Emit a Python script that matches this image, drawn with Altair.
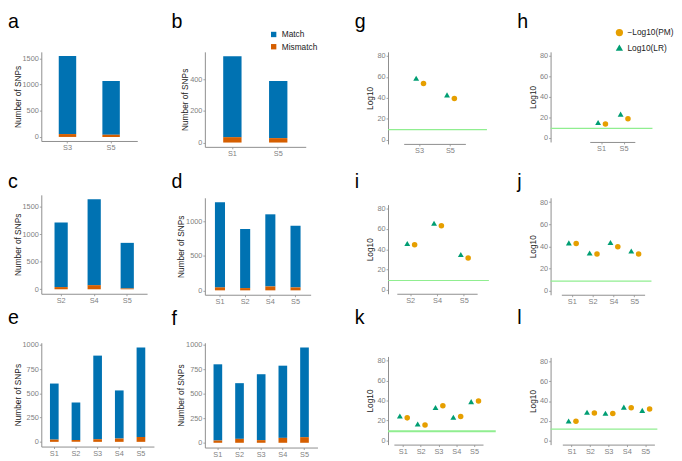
import altair as alt
import pandas as pd

FONT = "Liberation Sans"
MATCH, MISMATCH = "Match", "Mismatch"
PM, LR = "\u2212Log10(PM)", "Log10(LR)"

# ---- bar panels (a-f): Match / Mismatch counts
a_cats = ["S3", "S5"]
a_match = [1495, 1027]
a_mis = [55, 43]
b_cats = ["S1", "S5"]
b_match = [512, 361]
b_mis = [34, 28]
c_cats = ["S2", "S4", "S5"]
c_match = [1171, 1558, 828]
c_mis = [40, 75, 15]
d_cats = ["S1", "S2", "S4", "S5"]
d_match = [1237, 858, 1047, 895]
d_mis = [43, 33, 57, 43]
e_cats = ["S1", "S2", "S3", "S4", "S5"]
e_match = [578, 386, 862, 496, 923]
e_mis = [23, 20, 27, 34, 50]
f_cats = ["S1", "S2", "S3", "S4", "S5"]
f_match = [776, 567, 671, 735, 913]
f_mis = [23, 40, 27, 50, 57]

# ---- point panels (g-l): -Log10(PM), Log10(LR), threshold line
g_cats = ["S3", "S5"]
g_pm = [53.7, 39.5]
g_lr = [58.7, 42.9]
g_thr = 9.6
h_cats = ["S1", "S5"]
h_pm = [13.6, 18.7]
h_lr = [15.0, 23.2]
h_thr = 9.3
i_cats = ["S2", "S4", "S5"]
i_pm = [44.4, 63.2, 31.4]
i_lr = [45.7, 65.7, 34.7]
i_thr = 9.1
j_cats = ["S1", "S2", "S4", "S5"]
j_pm = [42.5, 33.0, 39.6, 33.0]
j_lr = [43.1, 33.9, 43.4, 35.7]
j_thr = 8.4
k_cats = ["S1", "S2", "S3", "S4", "S5"]
k_pm = [22.7, 15.5, 34.7, 24.0, 39.5]
k_lr = [24.6, 16.5, 33.0, 23.3, 38.9]
k_thr = 9.4
l_cats = ["S1", "S2", "S3", "S4", "S5"]
l_pm = [19.5, 28.0, 27.3, 33.2, 31.9]
l_lr = [19.8, 28.6, 27.6, 33.8, 30.6]
l_thr = 11.7


def title(label, offset):
    return alt.TitleParams(text=label, anchor="start", frame="group", dx=-34,
                           offset=offset, fontSize=20, fontWeight="normal",
                           font=FONT, color="#000000")


def bar_panel(label, cats, match, mis, ticks, w, h, offset, legend=None):
    n = len(cats)
    df = pd.DataFrame({"Sample": cats + cats,
                       "Type": [MATCH] * n + [MISMATCH] * n,
                       "SNPs": match + mis})
    top = max(m + s for m, s in zip(match, mis))
    return alt.Chart(df).transform_calculate(
        ord="datum.Type == 'Mismatch' ? 0 : 1"
    ).mark_bar().encode(
        x=alt.X("Sample:N", sort=cats,
                scale=alt.Scale(paddingInner=0.6, paddingOuter=0.4),
                axis=alt.Axis(title=None, labelAngle=0)),
        y=alt.Y("SNPs:Q", stack="zero",
                scale=alt.Scale(domain=[-0.05 * top, 1.05 * top], nice=False, zero=False),
                axis=alt.Axis(title="Number of SNPs", values=ticks, format="d", titlePadding=0)),
        color=alt.Color("Type:N",
                        scale=alt.Scale(domain=[MATCH, MISMATCH], range=["#0072B2", "#D55E00"]),
                        legend=legend),
        order=alt.Order("ord:Q", sort="ascending"),
    ).properties(width=w, height=h, title=title(label, offset))


def point_panel(label, cats, pm, lr, thr, xr, w, h, offset, legend=None, rule_w=1.2):
    n = len(cats)
    df = pd.DataFrame({"Sample": cats + cats,
                       "Stat": [PM] * n + [LR] * n,
                       "Value": pm + lr})
    yscale = alt.Scale(domain=[-4, 84], nice=False, zero=False)
    yaxis = alt.Axis(title="Log10", values=[0, 20, 40, 60, 80])
    x = alt.X("Sample:N", sort=cats, scale=alt.Scale(type="point", range=xr),
              axis=alt.Axis(title=None, labelAngle=0))
    y = alt.Y("Value:Q", scale=yscale, axis=yaxis)
    color = alt.Color("Stat:N", scale=alt.Scale(domain=[PM, LR], range=["#E69F00", "#009E73"]),
                      legend=legend)
    shape = alt.Shape("Stat:N", scale=alt.Scale(domain=[PM, LR], range=["circle", "triangle-up"]),
                      legend=legend)
    base = alt.Chart(df)
    tri = base.transform_filter(alt.datum.Stat == LR).mark_point(
        filled=True, opacity=1, size=36, xOffset=-3).encode(x=x, y=y, color=color, shape=shape)
    cir = base.transform_filter(alt.datum.Stat == PM).mark_point(
        filled=True, opacity=1, size=32, xOffset=4.5).encode(x=x, y=y, color=color, shape=shape)
    rule = alt.Chart(pd.DataFrame({"thr": [thr]})).mark_rule(
        color="#90EE90", strokeWidth=rule_w).encode(y=alt.Y("thr:Q", scale=yscale, axis=yaxis))
    return alt.layer(rule, tri, cir).properties(width=w, height=h, title=title(label, offset))


leg_b = alt.Legend(title=None, orient="none", legendX=66, legendY=-22, symbolType="square",
                   symbolSize=30, labelFontSize=8.5, labelFont=FONT, labelColor="#222222",
                   rowPadding=3.5, padding=0)
leg_h = alt.Legend(title=None, orient="none", legendX=66, legendY=-24, symbolSize=55,
                   symbolStrokeWidth=0, labelFontSize=8.5, labelFont=FONT, labelColor="#222222",
                   rowPadding=6.5, padding=0)

pa = bar_panel("a", a_cats, a_match, a_mis, [0, 500, 1000, 1500], 98, 91, 20)
pb = bar_panel("b", b_cats, b_match, b_mis, [0, 200, 400], 103, 97, -2, legend=leg_b)
pc = bar_panel("c", c_cats, c_match, c_mis, [0, 500, 1000, 1500], 108, 101, 3)
pd_ = bar_panel("d", d_cats, d_match, d_mis, [0, 500, 1000], 108, 99, 6)
pe = bar_panel("e", e_cats, e_match, e_mis, [0, 250, 500, 750, 1000], 115, 106, 13)
pf = bar_panel("f", f_cats, f_match, f_mis, [0, 250, 500, 750, 1000], 115, 107, 12)

pg = point_panel("g", g_cats, g_pm, g_lr, g_thr, [16, 79], 101, 94, 20)
ph = point_panel("h", h_cats, h_pm, h_lr, h_thr, [40, 86], 104, 92, -4, legend=leg_h)
pi = point_panel("i", i_cats, i_pm, i_lr, i_thr, [9, 91], 103, 91, 13)
pj = point_panel("j", j_cats, j_pm, j_lr, j_thr, [11, 96], 103, 99, 6)
pk = point_panel("k", k_cats, k_pm, k_lr, k_thr, [6, 97], 110, 90, 29, rule_w=2)
pl = point_panel("l", l_cats, l_pm, l_lr, l_thr, [12, 106], 109, 89, 30)


def ind(ch):
    return ch.resolve_scale(color="independent", shape="independent").resolve_legend(
        color="independent", shape="independent")


def column(p1, p2, p3, s12, s23):
    return ind(alt.vconcat(ind(alt.vconcat(p1, p2, spacing=s12)), p3, spacing=s23))


col1 = column(pa, pc, pe, 21, 4)
col2 = column(pb, pd_, pf, 15, 3)
col3 = column(pg, pi, pk, 18, 4)
col4 = column(ph, pj, pl, 20, 3)

left = ind(alt.hconcat(col1, col2, spacing=18))
right = ind(alt.hconcat(col3, col4, spacing=21))
chart = ind(alt.hconcat(left, right, spacing=38)).properties(
    padding=0, background="white"
).configure_view(stroke=None).configure_axis(
    domainColor="#8c8c8c", tickColor="#8c8c8c", labelColor="#7f7f7f", titleColor="#222222",
    labelFont=FONT, titleFont=FONT, labelFontSize=7.5, titleFontSize=8.5,
    titleFontWeight="normal", tickSize=2, labelPadding=1, titlePadding=2, grid=False,
    domainWidth=1, tickWidth=0.8
)

chart.save("out.html", embed_options={"renderer": "svg", "actions": False})
